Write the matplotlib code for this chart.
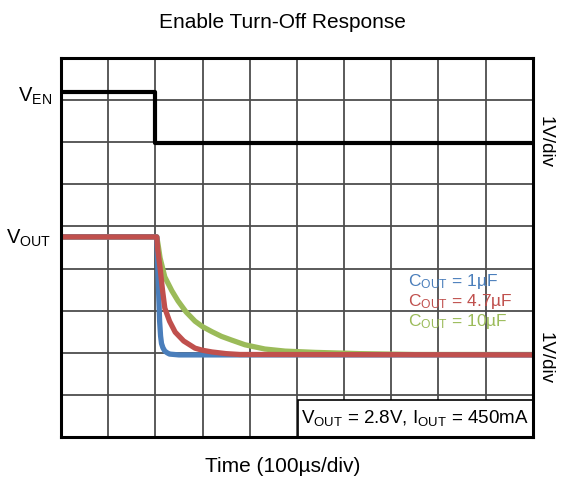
import numpy as np
import matplotlib
matplotlib.use("Agg")
import matplotlib.pyplot as plt
from matplotlib.patches import Rectangle

plt.rcParams['font.family'] = ['Liberation Sans', 'DejaVu Sans']
plt.rcParams['mathtext.fontset'] = 'custom'
plt.rcParams['mathtext.rm'] = 'Liberation Sans'

# --- scope traces, time in us, amplitude in screen divisions ---
t_en = [0, 200, 200, 1000]
v_en = [8.19, 8.19, 6.98, 6.98]

t_1u = [0, 203, 205, 207, 209, 211, 213, 216, 220, 225, 230, 240, 250, 1000]
v_1u = [4.75, 4.75, 4.10, 3.40, 2.75, 2.40, 2.22, 2.12, 2.04, 2.00, 1.97, 1.96, 1.95, 1.95]

t_4u7 = [0, 203, 205, 210, 215, 220, 230, 242, 260, 284, 300, 320, 350, 379, 1000]
v_4u7 = [4.75, 4.75, 4.45, 4.01, 3.50, 3.06, 2.75, 2.49, 2.28, 2.11, 2.06, 2.02, 1.98, 1.96, 1.95]

t_10u = [0, 203, 206, 210, 220, 235, 248, 265, 284, 300, 320, 340, 362, 390, 432, 475, 538, 633, 750, 1000]
v_10u = [4.75, 4.75, 4.55, 4.25, 3.80, 3.47, 3.23, 2.97, 2.75, 2.62, 2.50, 2.39, 2.30, 2.19, 2.09, 2.04, 2.01, 1.98, 1.96, 1.96]

legend_labels = [r'$\mathregular{C_{OUT}}$ = 1µF', r'$\mathregular{C_{OUT}}$ = 4.7µF', r'$\mathregular{C_{OUT}}$ = 10µF']
colors = ['#4a7ebb', '#c0504d', '#9bbb59']

fig = plt.figure(figsize=(5.65, 4.9), dpi=100)
ax = fig.add_axes([0.108, 0.108, 0.835, 0.774])
ax.set_xlim(0, 1000)
ax.set_ylim(0, 9)

# scope graticule
for x in np.arange(100, 1000, 100):
    ax.axvline(x, color='#4d4d4d', lw=1.3, zorder=1)
for y in np.arange(1, 9):
    ax.axhline(y, color='#4d4d4d', lw=1.3, zorder=1)

ax.plot(t_en, v_en, color='black', lw=3.0, zorder=3)
ax.plot(t_10u, v_10u, color=colors[2], lw=3.8, zorder=3)
ax.plot(t_1u, v_1u, color=colors[0], lw=3.8, zorder=4)
ax.plot(t_4u7, v_4u7, color=colors[1], lw=3.8, zorder=5)

ax.set_xticks([])
ax.set_yticks([])
for s in ax.spines.values():
    s.set_linewidth(2.2)
    s.set_zorder(10)

fig.text(0.5, 0.955, 'Enable Turn-Off Response', ha='center', va='center', fontsize=15)
fig.text(0.5, 0.047, 'Time (100µs/div)', ha='center', va='center', fontsize=15)

ax.text(-0.02, 8.08, r'$\mathregular{V_{EN}}$', transform=ax.get_yaxis_transform(),
        ha='right', va='center', fontsize=14.5)
ax.text(-0.02, 4.72, r'$\mathregular{V_{OUT}}$', transform=ax.get_yaxis_transform(),
        ha='right', va='center', fontsize=14.5)

ax.text(1.027, 7.0, '1V/div', transform=ax.get_yaxis_transform(), rotation=-90,
        ha='center', va='center', fontsize=13.5)
ax.text(1.027, 1.88, '1V/div', transform=ax.get_yaxis_transform(), rotation=-90,
        ha='center', va='center', fontsize=13.5)

for lab, c, y in zip(legend_labels, colors, [3.7, 3.22, 2.74]):
    ax.text(735, y, lab, color=c, ha='left', va='center', fontsize=12.5, zorder=6)

# condition box in the lower right corner
ax.add_patch(Rectangle((502, 0), 498, 0.88, facecolor='white', edgecolor='black',
                       lw=1.2, zorder=6))
ax.text(750, 0.45, r'$\mathregular{V_{OUT}}$ = 2.8V, $\mathregular{I_{OUT}}$ = 450mA',
        ha='center', va='center', fontsize=13.5, zorder=7)

fig.savefig('out.png', dpi=100)
